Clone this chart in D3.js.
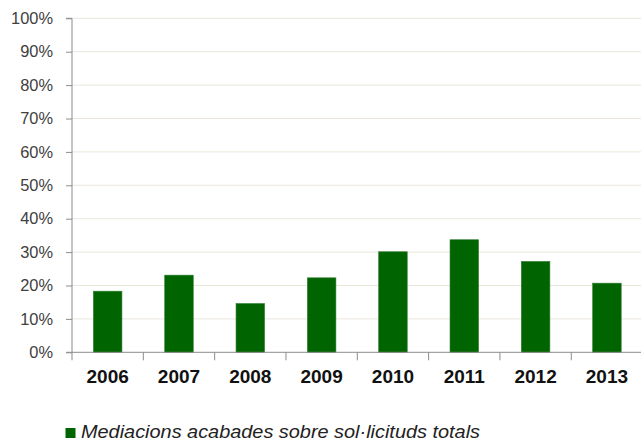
<!DOCTYPE html>
<html><head><meta charset="utf-8">
<script src="https://cdn.jsdelivr.net/npm/d3@7"></script>
<style>body{margin:0;background:#fff}svg{display:block}</style>
</head><body>
<svg id="c" width="641" height="442"></svg>
<script>
const years = ["2006","2007","2008","2009","2010","2011","2012","2013"];
const values = [0.183, 0.231, 0.146, 0.223, 0.301, 0.337, 0.272, 0.207];
const yTicks = [0,0.1,0.2,0.3,0.4,0.5,0.6,0.7,0.8,0.9,1.0];
const seriesName = "Mediacions acabades sobre sol·licituds totals";

(function(){
const svg = d3.select("#c");
const pL = 72, pR = 642.6, pT = 18.3, pB = 352.3;
const x = d3.scaleBand().domain(years).range([pL, pR]).paddingInner(0.6).paddingOuter(0.3);
const y = d3.scaleLinear().domain([0,1]).range([pB, pT]);

// gridlines
svg.append("g").selectAll("line").data(yTicks.filter(d=>d>0)).join("line")
  .attr("x1", pL).attr("x2", 641).attr("y1", d=>y(d)).attr("y2", d=>y(d))
  .attr("stroke", "#EAE6DA").attr("stroke-width", 1);

// bars
svg.append("g").selectAll("rect").data(years).join("rect")
  .attr("x", d=>x(d)).attr("width", x.bandwidth())
  .attr("y", (d,i)=>y(values[i])).attr("height", (d,i)=>y(0)-y(values[i]))
  .attr("fill", "#006400").attr("stroke","#2e7d2e").attr("stroke-width",0.6);

// y axis
const yAxis = d3.axisLeft(y).tickValues(yTicks).tickFormat(d3.format(".0%")).tickSize(6).tickPadding(13);
const gy = svg.append("g").attr("transform", `translate(${pL},0)`).call(yAxis);
gy.select(".domain").attr("stroke","#8c8c8c").attr("d", `M-6,${pT}H0V${pB}H-6`);
gy.selectAll(".tick line").attr("stroke","#8c8c8c");
gy.selectAll(".tick text").attr("fill","#404040").style("font-family","'Liberation Sans',Arial,sans-serif").style("font-size","16.4px");

// x axis
const step = x.step();
const gx = svg.append("g");
gx.append("line").attr("x1", pL).attr("x2", 641).attr("y1", pB).attr("y2", pB).attr("stroke","#8c8c8c");
gx.selectAll("line.t").data(d3.range(years.length+1)).join("line").attr("class","t")
  .attr("x1", i=>pL + i*step).attr("x2", i=>pL + i*step)
  .attr("y1", pB).attr("y2", pB+8).attr("stroke","#8c8c8c");
gx.selectAll("text").data(years).join("text")
  .attr("x", d=>x(d)+x.bandwidth()/2).attr("y", pB+31)
  .attr("text-anchor","middle").attr("fill","#111")
  .style("font-family","'Liberation Sans',Arial,sans-serif").style("font-size","19px").style("font-weight","bold")
  .text(d=>d);

// legend
const lg = svg.append("g");
lg.append("rect").attr("x",65.5).attr("y",428).attr("width",10).attr("height",10).attr("fill","#006400");
lg.append("text").attr("x",81).attr("y",438)
  .attr("textLength", 399).attr("lengthAdjust","spacingAndGlyphs")
  .style("font-family","'Liberation Sans',Arial,sans-serif").style("font-size","19px").style("font-style","italic")
  .attr("fill","#222").text(seriesName);
})();
</script>
</body></html>
